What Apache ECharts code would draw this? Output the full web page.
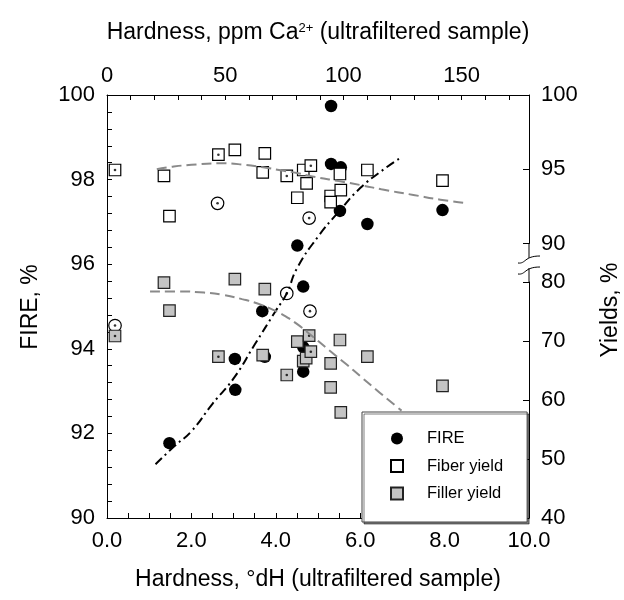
<!DOCTYPE html>
<html><head><meta charset="utf-8">
<script src="https://cdn.jsdelivr.net/npm/echarts/dist/echarts.min.js"></script>
<style>html,body{margin:0;padding:0;background:#fff}#c{width:624px;height:600px}</style>
</head><body><div id="c"></div>
<script>
// ---- data ----
const fireX = [1.48, 3.04, 3.03, 3.74, 3.68, 4.51, 4.65, 4.65, 4.65, 5.31, 5.31, 5.54, 5.52, 6.17, 7.95];
const fireY = [91.77, 93.03, 93.76, 93.81, 94.89, 96.44, 95.47, 94.04, 93.46, 99.74, 98.37, 98.29, 97.26, 96.95, 97.28];
const fireOpenX = [0.19, 2.62, 4.26, 4.79, 4.81];
const fireOpenY = [94.55, 97.44, 95.31, 97.09, 94.89];

const fiberX = [1.35, 1.48, 3.03, 3.74, 3.69, 4.51, 4.73, 4.65, 5.30, 5.30, 5.52, 5.54, 6.17, 7.95];
const fiberY = [94.55, 91.85, 96.30, 96.07, 94.79, 93.08, 94.05, 94.95, 93.20, 92.79, 94.68, 93.60, 94.95, 94.23];
const fiberDotX = [0.19, 2.64, 4.26, 4.83];
const fiberDotY = [94.95, 95.98, 94.55, 95.24];

const fillerX = [1.35, 1.48, 3.03, 3.74, 3.69, 4.51, 4.65, 4.72, 5.30, 5.30, 5.52, 5.54, 6.17, 7.95];
const fillerY = [79.88, 75.14, 80.5, 78.8, 67.6, 69.9, 66.6, 67.1, 66.2, 62.15, 70.17, 57.9, 67.34, 62.4];
const fillerDotX = [0.19, 2.64, 4.26, 4.79, 4.83];
const fillerDotY = [70.85, 67.34, 64.24, 70.9, 68.19];

// fitted curves
const fireFitX = [1.15, 1.6, 2.0, 2.5, 3.0, 3.5, 4.0, 4.26, 4.5, 5.0, 5.5, 6.0, 6.5, 6.93];
const fireFitY = [91.27, 91.7, 92.05, 92.7, 93.3, 94.1, 94.9, 95.31, 95.9, 96.65, 97.25, 97.8, 98.2, 98.5];
const fiberFitX = [1.18, 1.5, 2.0, 2.68, 3.2, 3.7, 4.18, 4.5, 4.9, 5.5, 6.07, 6.5, 7.26, 7.9, 8.44];
const fiberFitY = [95.0, 95.15, 95.3, 95.4, 95.32, 95.13, 94.9, 94.75, 94.5, 94.2, 93.9, 93.65, 93.27, 92.95, 92.75];
const fillerFitX = [1.02, 1.7, 2.3, 2.76, 3.2, 3.55, 3.9, 4.18, 4.5, 4.8, 5.28, 5.68, 6.0, 6.47, 6.98];
const fillerFitY = [78.4, 78.4, 78.2, 77.8, 77.1, 76.4, 75.4, 74.4, 72.9, 71.2, 68.35, 66.0, 64.05, 61.2, 58.2];

// tick labels
const bottomTickLabels = [0, 2, 4, 6, 8, 10];
const topTickLabels = [0, 50, 100, 150];
const leftTickLabels = [90, 92, 94, 96, 98, 100];
const rightUpperTickLabels = [90, 95, 100];
const rightLowerTickLabels = [40, 50, 60, 70, 80];

// ---- chart ----
const FONT = 'Liberation Sans, Arial, Helvetica, sans-serif';
const pairs = (xs, ys) => xs.map((x, i) => [x, ys[i]]);
const has = (arr, v) => arr.some(t => Math.abs(t - v) < 1e-6);
const L = 107, R = 95, T = 95, B = 82;
const AX = {color: '#000', width: 1};
const lbl = (arr, fmt, margin) => ({
  fontFamily: FONT, fontSize: 22, color: '#000', margin: margin,
  formatter: v => has(arr, v) ? fmt(v) : ''
});

const chart = echarts.init(document.getElementById('c'), null, {renderer: 'canvas'});
chart.setOption({
  animation: false,
  backgroundColor: '#fff',
  grid: [
    {left: L, right: R, top: T, bottom: B, outerBoundsMode: 'none'},
    {left: L, right: R, top: T, height: 148.5, outerBoundsMode: 'none'},
    {left: L, right: R, top: 282, bottom: B, outerBoundsMode: 'none'}
  ],
  xAxis: [
    {gridIndex: 0, type: 'value', position: 'bottom', min: 0, max: 10, interval: 0.5,
      axisLine: {show: true, onZero: false, lineStyle: AX},
      axisTick: {show: true, inside: true, length: 5, lineStyle: AX},
      axisLabel: lbl(bottomTickLabels, v => v.toFixed(1), 12),
      splitLine: {show: false}},
    {gridIndex: 0, type: 'value', position: 'top', min: 0, max: 178.5, interval: 10,
      axisLine: {show: true, onZero: false, lineStyle: AX},
      axisTick: {show: true, inside: true, length: 5, lineStyle: AX},
      axisLabel: lbl(topTickLabels, v => String(v), 8),
      splitLine: {show: false}},
    {gridIndex: 1, type: 'value', min: 0, max: 10, show: false},
    {gridIndex: 2, type: 'value', min: 0, max: 10, show: false}
  ],
  yAxis: [
    {gridIndex: 0, type: 'value', position: 'left', min: 90, max: 100, interval: 0.4,
      axisLine: {show: true, onZero: false, lineStyle: AX},
      axisTick: {show: true, inside: true, length: 5, lineStyle: AX},
      axisLabel: lbl(leftTickLabels, v => String(Math.round(v)), 12),
      splitLine: {show: false}},
    {gridIndex: 1, type: 'value', position: 'right', min: 90, max: 100, interval: 5,
      axisLine: {show: true, onZero: false, lineStyle: AX},
      axisTick: {show: true, inside: true, length: 6, lineStyle: AX},
      axisLabel: lbl(rightUpperTickLabels, v => String(Math.round(v)), 12),
      splitLine: {show: false}},
    {gridIndex: 2, type: 'value', position: 'right', min: 40, max: 80, interval: 10,
      axisLine: {show: true, onZero: false, lineStyle: AX},
      axisTick: {show: true, inside: true, length: 6, lineStyle: AX},
      axisLabel: lbl(rightLowerTickLabels, v => String(Math.round(v)), 12),
      splitLine: {show: false}}
  ],
  legend: {
    left: 362, top: 412, orient: 'vertical',
    padding: [18, 24, 20, 28], itemGap: 10.5, itemWidth: 12, itemHeight: 12,
    backgroundColor: '#fff', borderColor: '#444', borderWidth: 1,
    shadowColor: 'rgba(0,0,0,0.5)', shadowOffsetX: 2, shadowOffsetY: 2, shadowBlur: 0,
    textStyle: {fontFamily: FONT, fontSize: 16.5, color: '#000', padding: [0, 0, 0, 19]},
    selectedMode: false,
    data: [{name: 'FIRE', icon: 'circle'}, {name: 'Fiber yield', icon: 'rect'}, {name: 'Filler yield', icon: 'rect'}]
  },
  graphic: [
    {type: 'text', x: 318, y: 33, style: {
      text: 'Hardness, ppm Ca{sup|2+} (ultrafiltered sample)', fontFamily: FONT, fontSize: 23,
      fill: '#000', align: 'center', verticalAlign: 'middle',
      rich: {sup: {fontFamily: FONT, fontSize: 13, verticalAlign: 'top', fill: '#000'}}}},
    {type: 'text', x: 318, y: 580, style: {text: 'Hardness, °dH (ultrafiltered sample)', fontFamily: FONT, fontSize: 23, fill: '#000', align: 'center', verticalAlign: 'middle'}},
    {type: 'text', x: 31, y: 307, rotation: Math.PI / 2, style: {text: 'FIRE, %', fontFamily: FONT, fontSize: 23, fill: '#000', align: 'center', verticalAlign: 'middle'}},
    {type: 'text', x: 611, y: 310, rotation: Math.PI / 2, style: {text: 'Yields, %', fontFamily: FONT, fontSize: 23, fill: '#000', align: 'center', verticalAlign: 'middle'}},
    // axis break on the right axis
    {type: 'line', shape: {x1: 529, y1: 243, x2: 529, y2: 258}, style: {stroke: '#000', lineWidth: 1}},
    {type: 'line', shape: {x1: 529, y1: 268, x2: 529, y2: 282}, style: {stroke: '#000', lineWidth: 1}},
    {type: 'bezierCurve', shape: {x1: 518, y1: 263, cpx1: 526, cpy1: 264, cpx2: 524, cpy2: 256, x2: 540, y2: 256}, style: {stroke: '#000', lineWidth: 1, fill: null}},
    {type: 'bezierCurve', shape: {x1: 518, y1: 274, cpx1: 526, cpy1: 275, cpx2: 524, cpy2: 267, x2: 540, y2: 267}, style: {stroke: '#000', lineWidth: 1, fill: null}}
  ],
  series: [
    {name: 'FIRE', type: 'scatter', xAxisIndex: 0, yAxisIndex: 0, data: pairs(fireX, fireY), clip: false,
      symbol: 'circle', symbolSize: 12.5, itemStyle: {color: '#000', opacity: 1}},
    {name: 'FIRE (open)', type: 'scatter', xAxisIndex: 0, yAxisIndex: 0, data: pairs(fireOpenX, fireOpenY), clip: false,
      symbol: 'circle', symbolSize: 12.5, itemStyle: {color: '#fff', borderColor: '#000', borderWidth: 1.2, opacity: 1}},
    {name: 'Fiber yield', type: 'scatter', xAxisIndex: 2, yAxisIndex: 1, data: pairs(fiberX, fiberY), clip: false,
      symbol: 'rect', symbolSize: 11.5, itemStyle: {color: '#fff', borderColor: '#000', borderWidth: 1.2, opacity: 1}},
    {name: 'Fiber (dot)', type: 'scatter', xAxisIndex: 2, yAxisIndex: 1, data: pairs(fiberDotX, fiberDotY), clip: false,
      symbol: 'rect', symbolSize: 11.5, itemStyle: {color: '#fff', borderColor: '#000', borderWidth: 1.2, opacity: 1}},
    {name: 'Filler yield', type: 'scatter', xAxisIndex: 3, yAxisIndex: 2, data: pairs(fillerX, fillerY), clip: false,
      symbol: 'rect', symbolSize: 11.5, itemStyle: {color: '#c4c4c4', borderColor: '#222', borderWidth: 1.2, opacity: 1}},
    {name: 'Filler (dot)', type: 'scatter', xAxisIndex: 3, yAxisIndex: 2, data: pairs(fillerDotX, fillerDotY), clip: false,
      symbol: 'rect', symbolSize: 11.5, itemStyle: {color: '#c4c4c4', borderColor: '#222', borderWidth: 1.2, opacity: 1}},
    {name: 'd1', type: 'scatter', xAxisIndex: 0, yAxisIndex: 0, data: pairs(fireOpenX, fireOpenY), clip: false, symbol: 'circle', symbolSize: 2.6, itemStyle: {color: '#000'}},
    {name: 'd2', type: 'scatter', xAxisIndex: 2, yAxisIndex: 1, data: pairs(fiberDotX, fiberDotY), clip: false, symbol: 'circle', symbolSize: 2.6, itemStyle: {color: '#000'}},
    {name: 'd3', type: 'scatter', xAxisIndex: 3, yAxisIndex: 2, data: pairs(fillerDotX, fillerDotY), clip: false, symbol: 'circle', symbolSize: 2.6, itemStyle: {color: '#000'}},
    {name: 'FIRE fit', type: 'line', xAxisIndex: 0, yAxisIndex: 0, data: pairs(fireFitX, fireFitY), smooth: true, symbol: 'none', clip: false,
      lineStyle: {color: '#000', width: 2, type: [9, 4, 2, 4]}},
    {name: 'Fiber fit', type: 'line', xAxisIndex: 2, yAxisIndex: 1, data: pairs(fiberFitX, fiberFitY), smooth: true, symbol: 'none', clip: false,
      lineStyle: {color: '#8a8a8a', width: 2, type: [10, 5]}},
    {name: 'Filler fit', type: 'line', xAxisIndex: 3, yAxisIndex: 2, data: pairs(fillerFitX, fillerFitY), smooth: true, symbol: 'none', clip: false,
      lineStyle: {color: '#8a8a8a', width: 2, type: [10, 5]}}
  ]
});
</script></body></html>
